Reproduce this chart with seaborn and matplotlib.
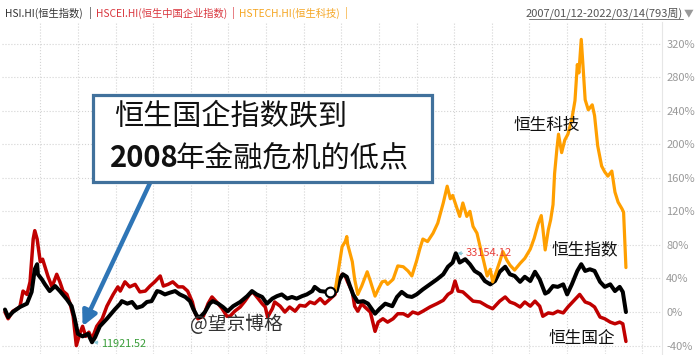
import numpy as np
import pandas as pd
import seaborn as sns
import matplotlib
matplotlib.use("Agg")
import matplotlib.pyplot as plt
from matplotlib.patches import Rectangle
from matplotlib.lines import Line2D

# x = week number (0 = 2007/01/12, 792 = 2022/03/14), y = % change vs. start
hsi_weeks = [0, 4, 10, 19, 28, 34, 38, 41, 42, 47,
             51, 57, 64, 70, 79, 85, 89, 93, 99, 106,
             111, 115, 121, 130, 140, 147, 149, 156, 162, 168,
             175, 181, 187, 194, 198, 204, 210, 217, 223, 230,
             236, 240, 245, 249, 255, 261, 265, 272, 278, 284,
             291, 300, 309, 315, 321, 328, 334, 341, 347, 353,
             360, 366, 372, 379, 385, 392, 395, 402, 411, 415,
             417, 423, 427, 431, 436, 440, 444, 450, 457, 463,
             472, 478, 485, 494, 500, 506, 513, 519, 525, 533,
             542, 551, 559, 565, 571, 575, 580, 587, 593, 599,
             606, 612, 619, 625, 631, 638, 644, 650, 657, 663,
             670, 676, 682, 689, 693, 699, 705, 712, 717, 723,
             730, 735, 740, 746, 752, 759, 765, 772, 778, 784,
             788, 792]
hsi_pct = [3, -6, 0, 6, 10, 24, 51, 57, 45, 39,
           33, 25, 31, 25, 15, 7, -8, -26, -29, -26,
           -36, -30, -17, -8, 3, 10, 13, 10, 12, 5,
           7, 12, 13, 25, 24, 21, 23, 25, 21, 18,
           13, 4, -5, -6, 0, 10, 13, 10, 6, 1,
           7, 12, 19, 25, 21, 18, 10, 16, 19, 21,
           16, 18, 16, 19, 21, 25, 30, 25, 24, 24,
           25, 25, 39, 45, 42, 31, 21, 12, 13, 10,
           -2, 4, 10, 7, 18, 24, 19, 18, 21, 27,
           33, 39, 45, 54, 59, 70, 59, 63, 57, 49,
           45, 37, 33, 37, 48, 54, 45, 43, 36, 42,
           37, 48, 39, 22, 24, 31, 30, 33, 21, 33,
           49, 57, 49, 51, 49, 36, 30, 33, 25, 30,
           24, 0]

hscei_weeks = [0, 4, 10, 19, 23, 28, 32, 36, 38, 41,
               45, 48, 51, 55, 60, 66, 70, 74, 79, 83,
               87, 91, 96, 99, 103, 107, 111, 117, 124, 130,
               138, 144, 147, 153, 159, 166, 172, 179, 185, 191,
               198, 202, 208, 214, 221, 227, 233, 239, 242, 246,
               253, 259, 264, 270, 277, 283, 287, 293, 300, 306,
               312, 316, 323, 328, 332, 335, 341, 344, 351, 357,
               363, 370, 376, 383, 389, 395, 402, 408, 415, 421,
               423, 430, 434, 437, 443, 446, 450, 455, 459, 466,
               472, 476, 482, 488, 495, 501, 508, 514, 520, 527,
               533, 542, 551, 559, 565, 570, 574, 578, 584, 590,
               597, 606, 615, 622, 631, 638, 644, 650, 657, 663,
               670, 676, 682, 686, 693, 699, 705, 712, 718, 724,
               733, 740, 746, 752, 759, 765, 772, 778, 784, 788,
               792]
hscei_pct = [0, -8, 1, 6, 25, 21, 36, 87, 97, 87,
             60, 63, 54, 42, 30, 45, 36, 25, 21, 10,
             -5, -40, -24, -17, -29, -24, -32, -17, -8, 7,
             21, 30, 25, 36, 30, 33, 24, 25, 31, 36,
             43, 31, 33, 36, 30, 30, 25, 12, 0, -8,
             -5, 10, 18, 12, 4, -5, -5, 1, 6, 13,
             21, 24, 16, 10, 6, -6, 4, 12, 7, 0,
             6, 1, 8, 7, 12, 10, 16, 10, 16, 21,
             31, 45, 43, 36, 24, 7, 1, 10, 6, 0,
             -23, -12, -8, -12, -8, -2, -2, -5, 0, -2,
             1, 6, 10, 14, 21, 24, 37, 25, 24, 19,
             13, 12, 7, 4, 13, 18, 12, 10, 6, 12,
             7, 13, 7, -5, -1, -2, 1, -1, 6, 12,
             21, 12, 10, 6, -6, -8, -12, -14, -12, -14,
             -35]

hstech_weeks = [421, 425, 430, 434, 436, 437, 443, 446, 450, 455,
                462, 466, 472, 476, 481, 485, 488, 495, 501, 508,
                514, 519, 525, 529, 533, 539, 546, 552, 559, 564,
                568, 571, 576, 580, 584, 589, 593, 597, 602, 606,
                610, 615, 619, 622, 627, 631, 635, 640, 644, 650,
                657, 663, 670, 675, 680, 684, 686, 689, 693, 696,
                699, 701, 704, 706, 710, 714, 718, 723, 727, 730,
                732, 735, 737, 740, 744, 749, 752, 756, 761, 765,
                769, 774, 778, 782, 787, 789, 792]
hstech_pct = [25, 48, 78, 84, 90, 81, 60, 39, 21, 31,
              48, 37, 19, 27, 36, 37, 33, 39, 55, 54,
              49, 43, 61, 75, 87, 84, 94, 106, 130, 150,
              135, 139, 125, 114, 130, 114, 120, 102, 94, 78,
              63, 43, 51, 36, 49, 60, 72, 62, 56, 50,
              58, 64, 75, 88, 105, 115, 100, 74, 98, 110,
              128, 165, 195, 212, 190, 205, 212, 230, 252, 295,
              285, 325, 297, 253, 241, 247, 234, 198, 174, 167,
              162, 168, 143, 131, 123, 119, 53]

y_ticks = list(range(-40, 321, 40))
hsi_low_label = "11921.52"
hsi_high_label = "33154.12"
date_range = "2007/01/12-2022/03/14(793周)"
hover_week = 415

sns.set_style("white")
plt.rcParams['font.family'] = ['Noto Sans CJK SC', 'DejaVu Sans']

W, H = 700, 355
fig = plt.figure(figsize=(W / 100, H / 100), dpi=100)
ax = fig.add_axes([2 / W, 1 / H, 660 / W, 332 / H])

sns.lineplot(x=hscei_weeks, y=hscei_pct, ax=ax, color="#c00000", lw=2.5)
sns.lineplot(x=hsi_weeks, y=hsi_pct, ax=ax, color="#000000", lw=2.9)
sns.lineplot(x=hstech_weeks, y=hstech_pct, ax=ax, color="#ff9f00", lw=2.3)

# hover marker on the HSI line
hi = hsi_weeks.index(hover_week)
ax.plot(hsi_weeks[hi], hsi_pct[hi], "o", ms=7, mfc="white", mec="black", mew=1.5, zorder=5)

ax.set_xlim(-3.8, 838)
ax.set_ylim(-50, 345.7)
ax.set_xticks(np.arange(45, 830, 48))
ax.set_xticklabels([])
ax.set_yticks(y_ticks)
ax.set_yticklabels([f"{v}%" for v in y_ticks])
ax.yaxis.tick_right()
ax.tick_params(axis="both", length=0)
ax.tick_params(axis="y", labelsize=8, labelcolor="#9a9a9a", pad=3)
ax.grid(True, ls=":", color="#d4d4d4", lw=0.8)
ax.set_xlabel("")
ax.set_ylabel("")
for side in ["top", "left", "bottom"]:
    ax.spines[side].set_visible(False)
ax.spines["right"].set_color("#e6e6e6")
ax.spines["right"].set_linewidth(0.8)

# min / max labels on HSI
lo = int(np.argmin(hsi_pct))
ax.annotate(hsi_low_label, xy=(hsi_weeks[lo], hsi_pct[lo]), xytext=(9, -2), textcoords="offset pixels",
            ha="left", va="center", fontsize=7.8, color="#3a9e3a",
            arrowprops=dict(arrowstyle="->", color="#8cc9d8", lw=0.9, shrinkA=0, shrinkB=1, mutation_scale=5))
hi_max = int(np.argmax(hsi_pct))
ax.annotate(hsi_high_label, xy=(hsi_weeks[hi_max], hsi_pct[hi_max]), xytext=(10, 0), textcoords="offset pixels",
            ha="left", va="center", fontsize=8, color="#e8413c",
            arrowprops=dict(arrowstyle="->", color="#8cc9d8", lw=0.9, shrinkA=0, shrinkB=1, mutation_scale=5))


def fx(px):
    return px / W


def fy(py):
    return 1 - py / H


# header
hdr = 7.4
fig.text(fx(5), fy(13), "HSI.HI(恒生指数)", fontsize=hdr, color="#333333", va="center", ha="left")
fig.text(fx(90), fy(13), "|", fontsize=hdr, color="#333333", va="center", ha="center")
fig.text(fx(96), fy(13), "HSCEI.HI(恒生中国企业指数)", fontsize=hdr, color="#d9363e", va="center", ha="left")
fig.text(fx(233), fy(13), "|", fontsize=hdr, color="#d9363e", va="center", ha="center")
fig.text(fx(239), fy(13), "HSTECH.HI(恒生科技)", fontsize=hdr, color="#f5a623", va="center", ha="left")
fig.text(fx(346), fy(13), "|", fontsize=hdr, color="#f5a623", va="center", ha="center")
fig.text(fx(683), fy(13), date_range, fontsize=8, color="#555555", va="center", ha="right")
fig.text(fx(684), fy(13), "▼", fontsize=7, color="#999999", va="center", ha="left")
fig.add_artist(Line2D([fx(529), fx(683)], [fy(19), fy(19)], transform=fig.transFigure, color="#777777", lw=0.7))

# callout box and arrow
fig.add_artist(Rectangle((fx(93), fy(182)), (432 - 93) / W, (182 - 95) / H, transform=fig.transFigure,
                         fc="white", ec="#41719c", lw=2.3, zorder=5))
fig.text(fx(114), fy(116), "恒生国企指数跌到", fontsize=21, color="#111111", va="center", ha="left", zorder=6)
fig.text(fx(110), fy(158), "2008", fontsize=21, fontweight="bold", color="#111111", va="center", ha="left", zorder=6)
fig.text(fx(176), fy(158), "年金融危机的低点", fontsize=21, color="#111111", va="center", ha="left", zorder=6)

ti = hscei_weeks.index(99)
ax.annotate("", xy=(hscei_weeks[ti], hscei_pct[ti]), xytext=(150, H - 183), textcoords="figure pixels",
            arrowprops=dict(arrowstyle="-|>", color="#2e75b6", lw=3.2, mutation_scale=22, shrinkA=0, shrinkB=0),
            zorder=7)

# series names and watermark
fig.text(fx(547), fy(125), "恒生科技", fontsize=12, color="#111111", va="center", ha="center")
fig.text(fx(585), fy(250), "恒生指数", fontsize=12, color="#111111", va="center", ha="center")
fig.text(fx(582), fy(338), "恒生国企", fontsize=12, color="#111111", va="center", ha="center")
fig.text(fx(236), fy(325), "@望京博格", fontsize=13.5, color="#333333", va="center", ha="center")

fig.savefig("out.png", dpi=100)
